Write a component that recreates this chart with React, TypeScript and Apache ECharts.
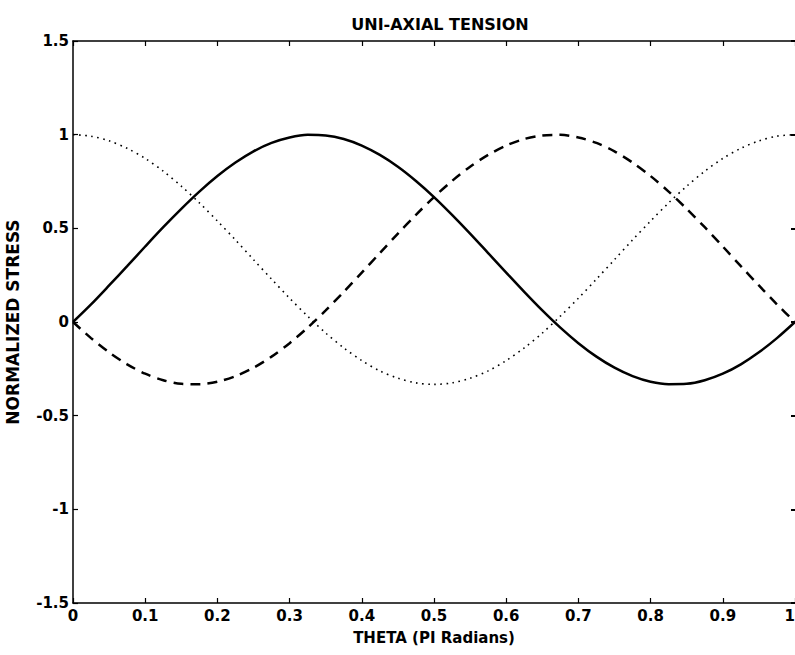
import React, { useEffect, useRef } from "react";
import * as echarts from "echarts";

// Angle, in units of PI radians
const THETA = [
  0, 0.025, 0.05, 0.075, 0.1, 0.125, 0.15, 0.175, 0.2, 0.225,
  0.25, 0.275, 0.3, 0.325, 0.35, 0.375, 0.4, 0.425, 0.45, 0.475,
  0.5, 0.525, 0.55, 0.575, 0.6, 0.625, 0.65, 0.675, 0.7, 0.725,
  0.75, 0.775, 0.8, 0.825, 0.85, 0.875, 0.9, 0.925, 0.95, 0.975, 1,
];

// Solid curve
const STRESS_SOLID = [
  0, 0.094, 0.195, 0.298, 0.403, 0.506, 0.604, 0.696, 0.779, 0.851,
  0.911, 0.956, 0.985, 0.999, 0.996, 0.977, 0.942, 0.892, 0.829, 0.753,
  0.667, 0.572, 0.472, 0.368, 0.264, 0.161, 0.062, -0.03, -0.113, -0.185,
  -0.244, -0.289, -0.319, -0.332, -0.33, -0.311, -0.276, -0.226, -0.162, -0.086, 0,
];

// Dashed curve
const STRESS_DASHED = [
  0, -0.086, -0.162, -0.226, -0.276, -0.311, -0.33, -0.332, -0.319, -0.289,
  -0.244, -0.185, -0.113, -0.03, 0.062, 0.161, 0.264, 0.368, 0.472, 0.572,
  0.667, 0.753, 0.829, 0.892, 0.942, 0.977, 0.996, 0.999, 0.985, 0.956,
  0.911, 0.851, 0.779, 0.696, 0.604, 0.506, 0.403, 0.298, 0.195, 0.094, 0,
];

// Dotted curve
const STRESS_DOTTED = [
  1, 0.992, 0.967, 0.927, 0.873, 0.805, 0.725, 0.636, 0.539, 0.438,
  0.333, 0.229, 0.127, 0.031, -0.059, -0.138, -0.206, -0.261, -0.3, -0.325,
  -0.333, -0.325, -0.3, -0.261, -0.206, -0.138, -0.059, 0.031, 0.127, 0.229,
  0.333, 0.438, 0.539, 0.636, 0.725, 0.805, 0.873, 0.927, 0.967, 0.992, 1,
];

const FONT = "DejaVu Sans";

const pairs = (ys: number[]) => THETA.map((x, i) => [x, ys[i]]);

export default function App() {
  const ref = useRef<HTMLDivElement>(null);

  useEffect(() => {
    if (!ref.current) return;
    const chart = echarts.init(ref.current, null, { renderer: "svg" });

    const axisText = { color: "#000", fontFamily: FONT, fontWeight: "bold" as const, fontSize: 15 };
    const blackLine = { onZero: false, lineStyle: { color: "#000", width: 1.5 } };
    const tick = { show: true, inside: true, length: 5, lineStyle: { color: "#000", width: 1.2 } };

    chart.setOption({
      animation: false,
      backgroundColor: "#fff",
      title: {
        text: "UNI-AXIAL TENSION",
        left: 435,
        textAlign: "center",
        top: 11,
        textStyle: { color: "#000", fontFamily: FONT, fontWeight: "bold", fontSize: 16 },
      },
      grid: { left: 73, right: 0, top: 41, bottom: 52, containLabel: false, outerBoundsMode: "none" },
      xAxis: [
        {
          type: "value",
          min: 0,
          max: 1,
          interval: 0.1,
          position: "bottom",
          name: "THETA (PI Radians)",
          nameLocation: "middle",
          nameGap: 27,
          nameTextStyle: { ...axisText, fontSize: 15 },
          axisLine: { show: true, ...blackLine },
          axisTick: tick,
          axisLabel: { ...axisText, margin: 5, alignMaxLabel: "right" },
          splitLine: { show: false },
        },
        {
          type: "value",
          min: 0,
          max: 1,
          interval: 0.1,
          position: "top",
          axisLine: { show: true, ...blackLine },
          axisTick: tick,
          axisLabel: { show: false },
          splitLine: { show: false },
        },
      ],
      yAxis: [
        {
          type: "value",
          min: -1.5,
          max: 1.5,
          interval: 0.5,
          position: "left",
          name: "NORMALIZED STRESS",
          nameLocation: "middle",
          nameGap: 52,
          nameRotate: 90,
          nameTextStyle: { ...axisText, fontSize: 17 },
          axisLine: { show: true, ...blackLine },
          axisTick: tick,
          axisLabel: { ...axisText, margin: 4 },
          splitLine: { show: false },
        },
        {
          type: "value",
          min: -1.5,
          max: 1.5,
          interval: 0.5,
          position: "right",
          axisLine: { show: false, onZero: false },
          axisTick: { show: true, inside: true, length: 4, lineStyle: { color: "#000", width: 2 } },
          axisLabel: { show: false },
          splitLine: { show: false },
        },
      ],
      series: [
        {
          type: "line",
          data: pairs(STRESS_SOLID),
          smooth: 0.3,
          showSymbol: false,
          lineStyle: { color: "#000", width: 2.5, type: "solid" },
        },
        {
          type: "line",
          data: pairs(STRESS_DASHED),
          smooth: 0.3,
          showSymbol: false,
          lineStyle: { color: "#000", width: 2.5, type: [10, 7] },
        },
        {
          type: "line",
          data: pairs(STRESS_DOTTED),
          smooth: 0.3,
          showSymbol: false,
          lineStyle: { color: "#000", width: 1.6, type: [1.6, 4.5] },
        },
      ],
    });

    return () => chart.dispose();
  }, []);

  return <div ref={ref} style={{ width: 795, height: 655, position: "absolute", left: 0, top: 0 }} />;
}
